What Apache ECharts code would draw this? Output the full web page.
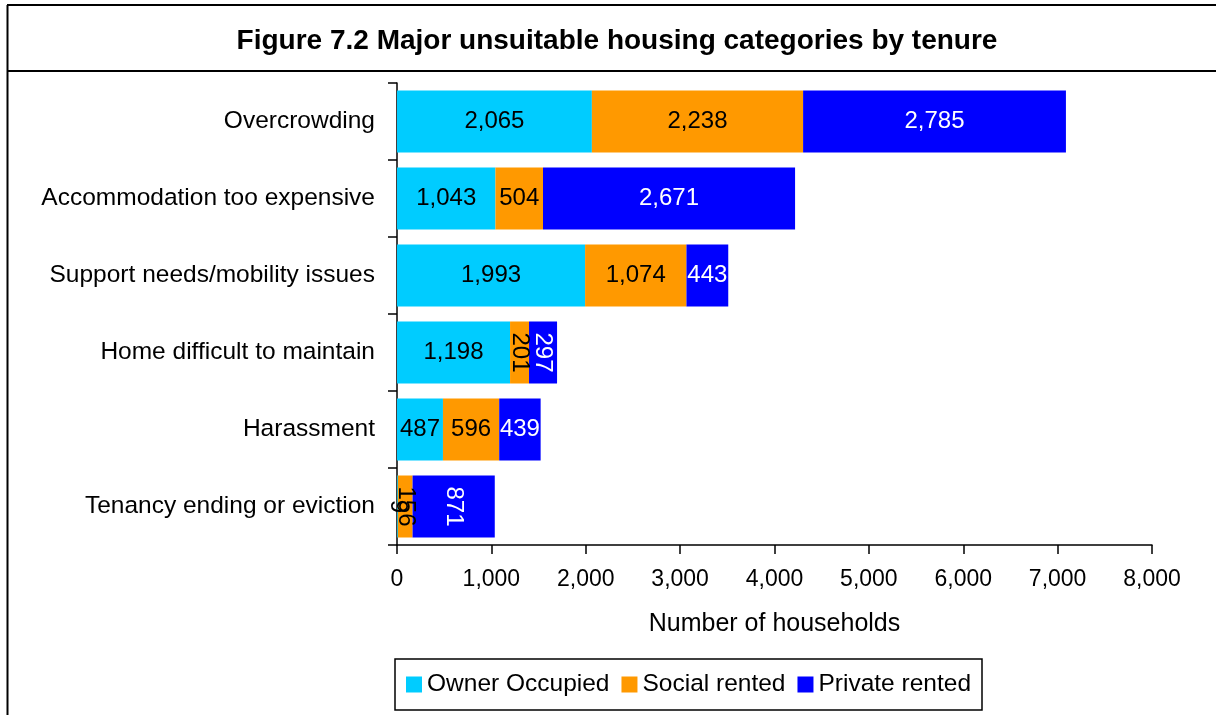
<!DOCTYPE html>
<html>
<head>
<meta charset="utf-8">
<title>Figure 7.2</title>
<script src="https://cdn.jsdelivr.net/npm/echarts@6/dist/echarts.min.js"></script>
<style>
html, body { margin: 0; padding: 0; background: #fff; }
#main { width: 1216px; height: 715px; }
</style>
</head>
<body>
<div id="main"></div>
<script>
// data
var categories = ['Overcrowding', 'Accommodation too expensive', 'Support needs/mobility issues',
  'Home difficult to maintain', 'Harassment', 'Tenancy ending or eviction'];
var ownerOccupied = [2065, 1043, 1993, 1198, 487, 9];
var socialRented = [2238, 504, 1074, 201, 596, 156];
var privateRented = [2785, 2671, 443, 297, 439, 871];
var xTicks = [0, 1000, 2000, 3000, 4000, 5000, 6000, 7000, 8000];

// labels drawn vertically in the original (category -> series index)
var verticalLabels = {
  'Home difficult to maintain': [1, 2],
  'Tenancy ending or eviction': [0, 1, 2]
};

var font = '"Liberation Sans", Arial, sans-serif';

function fmt(v) {
  return String(v).replace(/\B(?=(\d{3})+(?!\d))/g, ',');
}

function buildData(values, seriesIdx) {
  return values.map(function (v, i) {
    var rot = verticalLabels[categories[i]];
    if (rot && rot.indexOf(seriesIdx) >= 0) {
      return { value: v, label: { rotate: -90 } };
    }
    return v;
  });
}

function makeSeries(name, values, idx, color, textColor) {
  return {
    name: name,
    type: 'bar',
    stack: 'total',
    barWidth: 62,
    itemStyle: { color: color },
    label: {
      show: true,
      position: 'inside',
      color: textColor,
      fontSize: 24,
      fontFamily: font,
      formatter: function (p) { return fmt(p.value); }
    },
    emphasis: { disabled: true },
    data: buildData(values, idx)
  };
}

var myChart = echarts.init(document.getElementById('main'));

var option = {
  animation: false,
  title: {
    text: 'Figure 7.2 Major unsuitable housing categories by tenure',
    left: 612,
    textAlign: 'center',
    top: 22,
    textStyle: { fontSize: 28, fontWeight: 'bold', color: '#000', fontFamily: font }
  },
  legend: {
    left: 395,
    top: 659,
    padding: [13, 11, 13, 11],
    borderColor: '#000',
    borderWidth: 1.5,
    itemWidth: 16,
    itemHeight: 16,
    itemGap: 12,
    icon: 'rect',
    textStyle: { fontSize: 24.5, color: '#000', fontFamily: font },
    data: ['Owner Occupied', 'Social rented', 'Private rented']
  },
  grid: {
    left: 397,
    right: 64,
    top: 83,
    bottom: 170
  },
  xAxis: {
    type: 'value',
    min: xTicks[0],
    max: xTicks[xTicks.length - 1],
    interval: 1000,
    name: 'Number of households',
    nameLocation: 'middle',
    nameGap: 67,
    nameTextStyle: { fontSize: 25, color: '#000', fontFamily: font },
    axisLine: { show: true, lineStyle: { color: '#000', width: 1.5 } },
    axisTick: { show: true, length: 9, lineStyle: { color: '#000', width: 1.5 } },
    axisLabel: {
      margin: 23,
      fontSize: 23,
      color: '#000',
      fontFamily: font,
      formatter: function (v) { return fmt(v); }
    },
    splitLine: { show: false }
  },
  yAxis: {
    type: 'category',
    inverse: true,
    data: categories,
    axisLine: { show: true, lineStyle: { color: '#000', width: 1.5 } },
    axisTick: { show: true, length: 9, lineStyle: { color: '#000', width: 1.5 } },
    axisLabel: { margin: 22, fontSize: 24.5, color: '#000', fontFamily: font }
  },
  series: [
    makeSeries('Owner Occupied', ownerOccupied, 0, '#00CCFF', '#000'),
    makeSeries('Social rented', socialRented, 1, '#FF9900', '#000'),
    makeSeries('Private rented', privateRented, 2, '#0000FF', '#fff')
  ],
  graphic: [
    { type: 'line', shape: { x1: 7.5, y1: 5, x2: 7.5, y2: 715 }, style: { stroke: '#000', lineWidth: 2 } },
    { type: 'line', shape: { x1: 7, y1: 5, x2: 1216, y2: 5 }, style: { stroke: '#000', lineWidth: 2 } },
    { type: 'line', shape: { x1: 7, y1: 71, x2: 1216, y2: 71 }, style: { stroke: '#000', lineWidth: 2 } }
  ]
};

myChart.setOption(option);
window.onresize = function () {
  myChart.resize();
};
</script>
</body>
</html>
